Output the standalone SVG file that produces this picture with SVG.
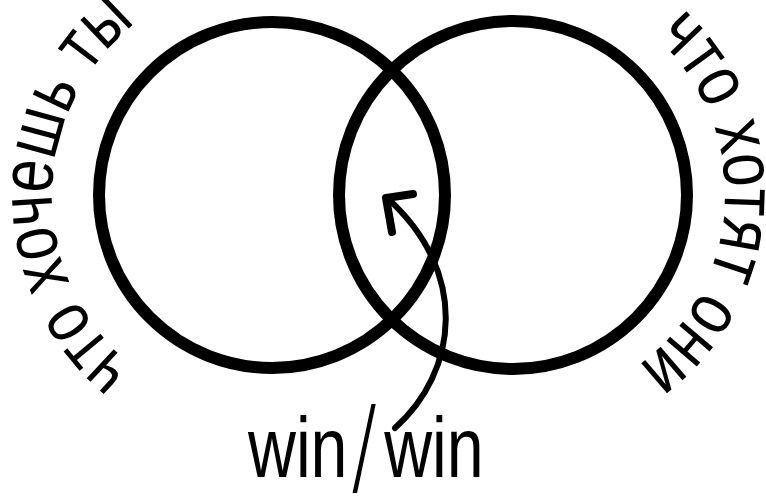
<svg xmlns="http://www.w3.org/2000/svg" width="766" height="499" viewBox="0 0 766 499">
<style>
.ring{fill:none;stroke:#000;stroke-width:12}
.lbl{font-family:"Liberation Sans",Arial,sans-serif;font-size:75px;fill:#000}
.arr{fill:none;stroke:#000;stroke-linecap:round;stroke-linejoin:round}
</style>
<defs>
<path id="pl" d="M133.6,367 A220,220 0 0 1 136.5,22.6"/>
<path id="pr" d="M654.9,36.5 A212,212 0 0 1 637.6,365.5"/>
</defs>
<rect width="766" height="499" fill="#fff"/>
<g id="you">
<circle class="ring" cx="272" cy="195" r="173"/>
<text class="lbl"><textPath href="#pl" textLength="395" lengthAdjust="spacingAndGlyphs">что хочешь ты</textPath></text>
</g>
<g id="them">
<circle class="ring" cx="513" cy="195" r="174"/>
<text class="lbl"><textPath href="#pr" textLength="377" lengthAdjust="spacingAndGlyphs">что хотят они</textPath></text>
</g>
<g id="winwin">
<text transform="translate(248,477) scale(0.78,1)" font-family="'Liberation Sans',Arial,sans-serif" font-size="85" fill="#000">win<tspan dx="4" dy="17" font-size="126" stroke="#fff" stroke-width="4">/</tspan><tspan dx="8" dy="-17">win</tspan></text>
</g>
<g id="connectors">
<path class="arr" stroke-width="6" d="M395,428 C458,372 470,272 387,198"/>
<polyline class="arr" stroke-width="8" points="413,194 386,198 392,232"/>
</g>
</svg>
